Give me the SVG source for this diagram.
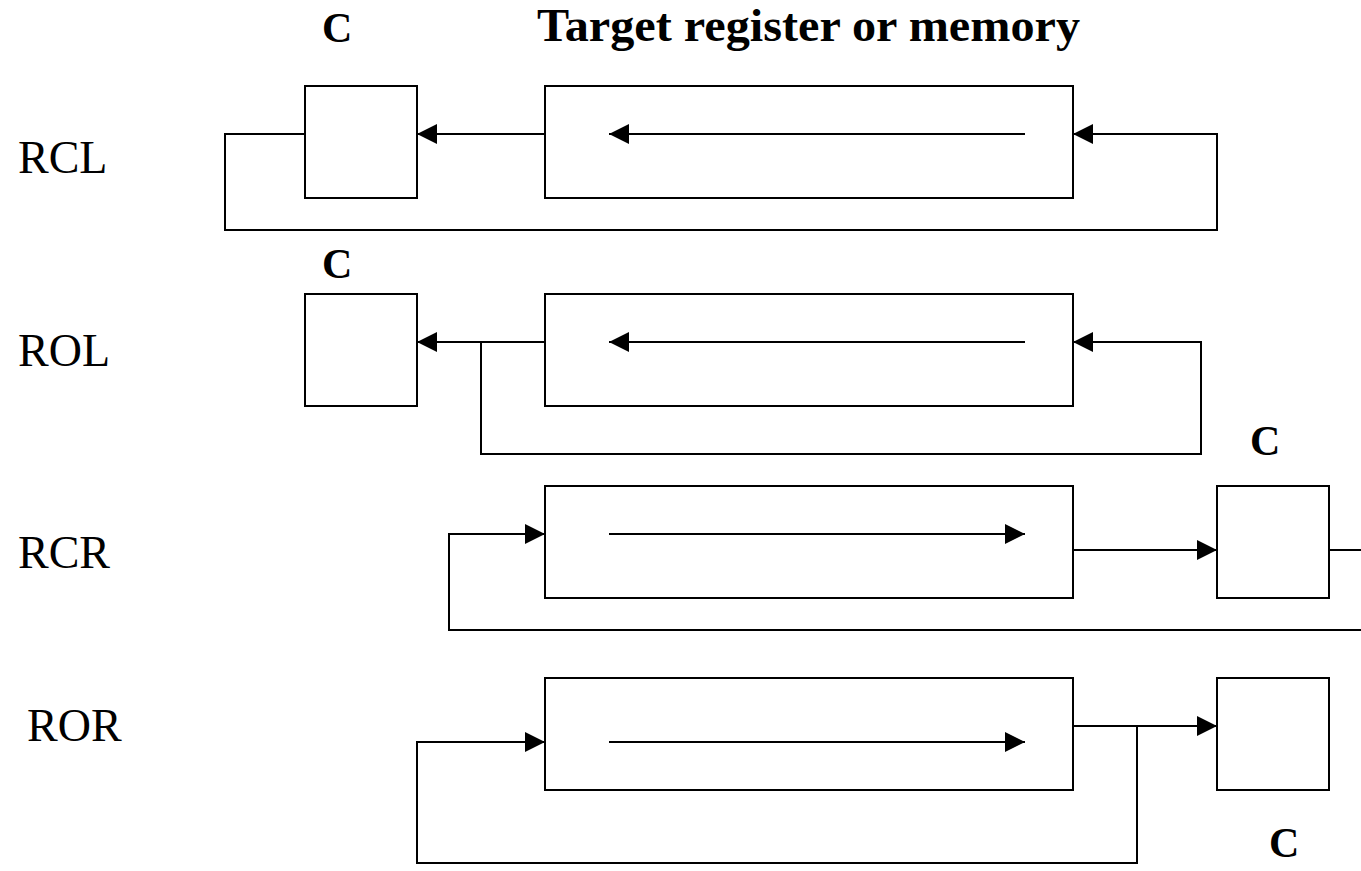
<svg xmlns="http://www.w3.org/2000/svg" width="1361" height="871" viewBox="0 0 1361 871">
<style>
.box{fill:#fff;stroke:#000;stroke-width:2}
.ln{fill:none;stroke:#000;stroke-width:2}
.lbl{font-family:"Liberation Serif","Times New Roman",serif;font-size:46px;fill:#000}
.bc{font-family:"Liberation Serif","Times New Roman",serif;font-size:42px;font-weight:bold;fill:#000}
.tt{font-family:"Liberation Serif","Times New Roman",serif;font-size:46px;font-weight:bold;fill:#000}
</style>
<defs>
<marker id="ah" markerUnits="userSpaceOnUse" viewBox="0 0 20 20" refX="20" refY="10" markerWidth="20" markerHeight="20" orient="auto">
<path d="M0,0 L20,10 L0,20 z" fill="#000"/>
</marker>
</defs>
<rect width="1361" height="871" fill="#fff"/>
<g id="title"><text class="tt" x="537" y="41" textLength="543" lengthAdjust="spacingAndGlyphs">Target register or memory</text></g>
<g id="labels">
<text class="lbl" x="18" y="173">RCL</text>
<text class="lbl" x="18" y="366">ROL</text>
<text class="lbl" x="18" y="568">RCR</text>
<text class="lbl" x="27" y="741">ROR</text>
</g>
<g id="rcl">
<text class="bc" x="322" y="42">C</text>
<rect id="rcl-c" class="box" x="305" y="86" width="112" height="112"/>
<rect id="rcl-reg" class="box" x="545" y="86" width="528" height="112"/>
</g>
<g id="rol">
<text class="bc" x="322" y="278">C</text>
<rect id="rol-c" class="box" x="305" y="294" width="112" height="112"/>
<rect id="rol-reg" class="box" x="545" y="294" width="528" height="112"/>
</g>
<g id="rcr">
<text class="bc" x="1250" y="455">C</text>
<rect id="rcr-reg" class="box" x="545" y="486" width="528" height="112"/>
<rect id="rcr-c" class="box" x="1217" y="486" width="112" height="112"/>
</g>
<g id="ror">
<rect id="ror-reg" class="box" x="545" y="678" width="528" height="112"/>
<rect id="ror-c" class="box" x="1217" y="678" width="112" height="112"/>
<text class="bc" x="1269" y="857">C</text>
</g>
<g id="connectors">
<path class="ln" d="M545,134 H417" marker-end="url(#ah)"/>
<path class="ln" d="M1025,134 H609" marker-end="url(#ah)"/>
<path class="ln" d="M305,134 H225 V230 H1217 V134 H1073" marker-end="url(#ah)"/>
<path class="ln" d="M545,342 H417" marker-end="url(#ah)"/>
<path class="ln" d="M1025,342 H609" marker-end="url(#ah)"/>
<path class="ln" d="M481,342 V454 H1201 V342 H1073" marker-end="url(#ah)"/>
<path class="ln" d="M1073,550 H1217" marker-end="url(#ah)"/>
<path class="ln" d="M1329,550 H1361"/>
<path class="ln" d="M1361,630 H449 V534 H545" marker-end="url(#ah)"/>
<path class="ln" d="M609,534 H1025" marker-end="url(#ah)"/>
<path class="ln" d="M1073,726 H1217" marker-end="url(#ah)"/>
<path class="ln" d="M1137,726 V863 H417 V742 H545" marker-end="url(#ah)"/>
<path class="ln" d="M609,742 H1025" marker-end="url(#ah)"/>
</g>
</svg>
